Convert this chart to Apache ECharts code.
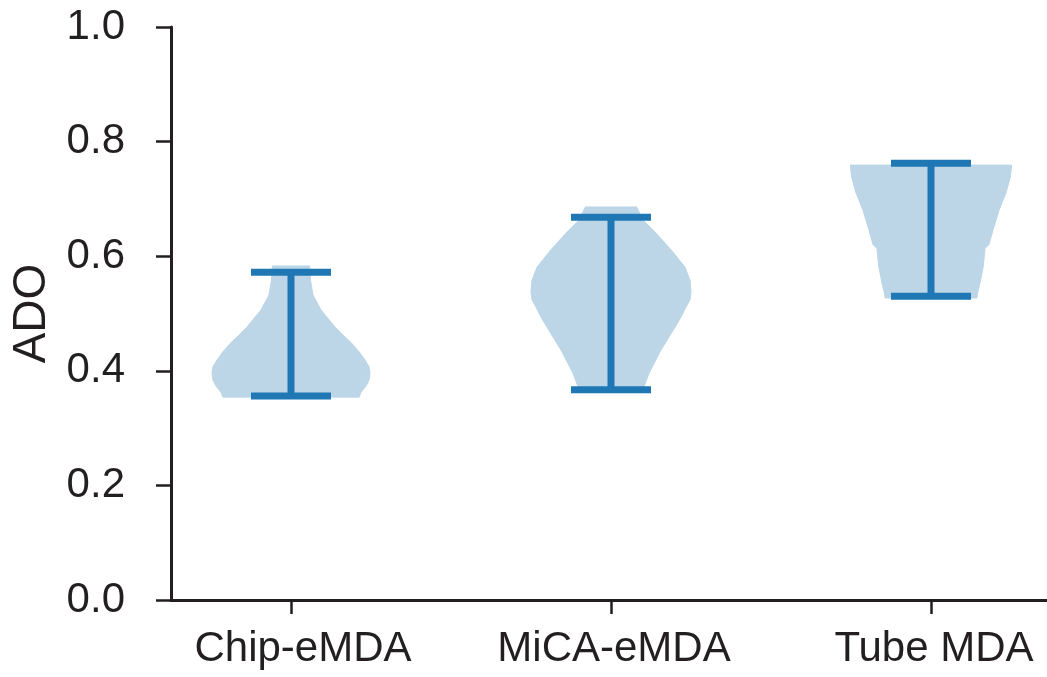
<!DOCTYPE html>
<html>
<head>
<meta charset="utf-8">
<script src="https://cdn.jsdelivr.net/npm/echarts@6/dist/echarts.min.js"></script>
<style>
  html, body { margin: 0; padding: 0; background: #fff; }
  #chart { width: 1047px; height: 677px; }
</style>
</head>
<body>
<div id="chart"></div>
<script>
// Groups along the x axis (positions 1, 2, 3)
const categories = ['Chip-eMDA', 'MiCA-eMDA', 'Tube MDA'];
const positions = [1, 2, 3];

// Extremes of each group (whisker caps)
const minValues = [0.356, 0.367, 0.530];
const maxValues = [0.572, 0.668, 0.762];

// Density outline of each violin: ADO levels and half-width (in x-axis units)
const chipLevels = [0.354, 0.363, 0.373, 0.384, 0.396, 0.407, 0.419, 0.433, 0.449, 0.462, 0.476, 0.489, 0.506, 0.532, 0.558, 0.583];
const chipHalfWidths = [0.213, 0.219, 0.234, 0.244, 0.247, 0.244, 0.231, 0.213, 0.188, 0.163, 0.138, 0.119, 0.094, 0.069, 0.061, 0.058];

const micaLevels = [0.365, 0.372, 0.396, 0.436, 0.476, 0.494, 0.511, 0.524, 0.538, 0.558, 0.581, 0.611, 0.640, 0.663, 0.686];
const micaHalfWidths = [0.100, 0.103, 0.119, 0.156, 0.200, 0.219, 0.234, 0.247, 0.250, 0.247, 0.231, 0.188, 0.141, 0.100, 0.080];

const tubeLevels = [0.527, 0.532, 0.553, 0.581, 0.614, 0.620, 0.646, 0.681, 0.710, 0.738, 0.759];
const tubeHalfWidths = [0.144, 0.144, 0.153, 0.163, 0.169, 0.181, 0.194, 0.213, 0.234, 0.248, 0.252];

// Y-axis tick labels
const yTickLabels = ['0.0', '0.2', '0.4', '0.6', '0.8', '1.0'];

const violinLevels = [chipLevels, micaLevels, tubeLevels];
const violinHalfWidths = [chipHalfWidths, micaHalfWidths, tubeHalfWidths];

const CAP_HALF = 0.125;
const FILL = '#bcd6e8';
const LINE = '#1f77b4';
const INK = '#231f20';
const FONT = '"Liberation Sans", Arial, sans-serif';

function renderViolin(params, api) {
  const i = api.value(0);
  const x0 = positions[i];
  const levels = violinLevels[i];
  const hw = violinHalfWidths[i];
  const pts = [];
  for (let k = 0; k < levels.length; k++) pts.push(api.coord([x0 + hw[k], levels[k]]));
  for (let k = levels.length - 1; k >= 0; k--) pts.push(api.coord([x0 - hw[k], levels[k]]));
  return {
    type: 'polygon',
    shape: { points: pts },
    style: { fill: FILL, stroke: FILL, lineWidth: 1 }
  };
}

function renderWhisker(params, api) {
  const i = api.value(0);
  const x0 = positions[i];
  const lo = minValues[i];
  const hi = maxValues[i];
  const style = { stroke: LINE, lineWidth: 7, fill: null };
  const seg = (a, b) => {
    const p1 = api.coord(a), p2 = api.coord(b);
    return { type: 'line', shape: { x1: p1[0], y1: p1[1], x2: p2[0], y2: p2[1] }, style };
  };
  return {
    type: 'group',
    children: [
      seg([x0, lo], [x0, hi]),
      seg([x0 - CAP_HALF, hi], [x0 + CAP_HALF, hi]),
      seg([x0 - CAP_HALF, lo], [x0 + CAP_HALF, lo])
    ]
  };
}

const chart = echarts.init(document.getElementById('chart'), null, { renderer: 'canvas' });

const labelText = { color: INK, fontSize: 42, fontFamily: FONT };

chart.setOption({
  animation: false,
  backgroundColor: '#ffffff',
  grid: { left: 171, right: 0, top: 27, bottom: 77, containLabel: false, outerBoundsMode: 'none' },
  xAxis: {
    type: 'value',
    min: 0.625,
    max: 3.3625,
    splitLine: { show: false },
    axisLine: { show: true, onZero: false, lineStyle: { color: INK, width: 3 } },
    axisTick: {
      show: true, inside: false, length: 14,
      customValues: positions,
      lineStyle: { color: INK, width: 2.5 }
    },
    axisLabel: {
      show: true,
      customValues: positions,
      margin: 28,
      color: INK,
      fontSize: 42,
      fontFamily: FONT,
      formatter: v => {
        const idx = positions.indexOf(Math.round(v));
        if (idx < 0) return '';
        // first label sits slightly right of its tick
        return idx === 0 ? '{first|' + categories[idx] + '}' : '{rest|' + categories[idx] + '}';
      },
      rich: {
        first: Object.assign({ padding: [0, 0, 0, 24] }, labelText),
        rest: Object.assign({ padding: [0, 0, 0, 6] }, labelText)
      }
    }
  },
  yAxis: {
    type: 'value',
    min: 0,
    max: 1,
    interval: 0.2,
    name: 'ADO',
    nameLocation: 'middle',
    nameGap: 116,
    nameTextStyle: { color: INK, fontSize: 46, fontFamily: FONT },
    splitLine: { show: false },
    axisLine: { show: true, lineStyle: { color: INK, width: 3 } },
    axisTick: { show: true, inside: false, length: 15, lineStyle: { color: INK, width: 2.5 } },
    axisLabel: {
      margin: 46,
      color: INK,
      fontSize: 42,
      fontFamily: FONT,
      formatter: v => yTickLabels[Math.round(v / 0.2)]
    }
  },
  series: [
    {
      type: 'custom',
      renderItem: renderViolin,
      data: [[0], [1], [2]],
      z: 1,
      silent: true
    },
    {
      type: 'custom',
      renderItem: renderWhisker,
      data: [[0], [1], [2]],
      z: 2,
      silent: true
    }
  ]
});
</script>
</body>
</html>
